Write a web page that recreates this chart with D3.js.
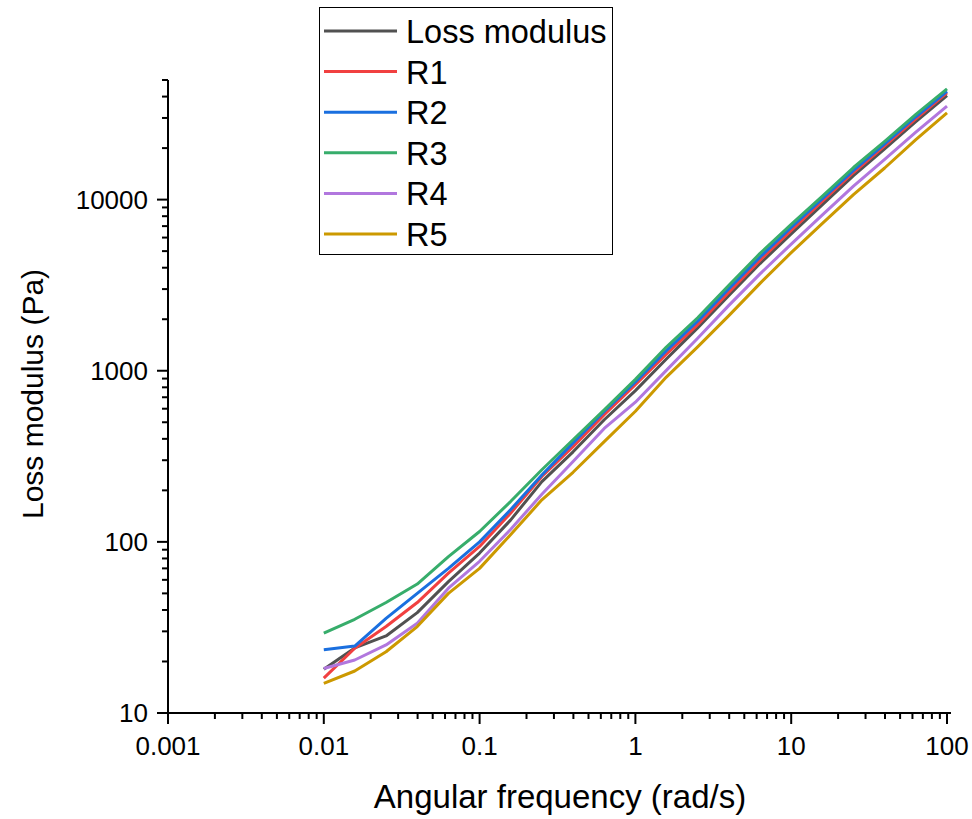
<!DOCTYPE html>
<html><head><meta charset="utf-8">
<script src="https://cdn.jsdelivr.net/npm/d3@7"></script>
<style>body{margin:0;background:#fff}svg{display:block}text{font-family:"Liberation Sans",Arial,sans-serif;fill:#000}</style>
</head><body>
<svg id="c" width="972" height="819"></svg>
<script>
const freq = [0.01,0.0158,0.0251,0.0398,0.0631,0.1,0.158,0.251,0.398,0.631,1,1.58,2.51,3.98,6.31,10,15.8,25.1,39.8,63.1,100];
const lossModulus = [18.0,24.0,28.2,38.6,58.6,86,134,225,336,517,765,1170,1780,2750,4230,6300,9310,13800,19800,28600,40600];
const r1 = [16.0,23.9,32,44.2,65.6,94,147,241,360,553,830,1250,1860,2880,4430,6610,9750,14400,20600,29600,42000];
const r2 = [23.4,24.6,35.7,50,70,100,154,246,379,578,860,1310,1950,3020,4620,6890,10100,14800,21200,30500,42900];
const r3 = [29.3,35.3,44.2,56.7,82,115,172,264,395,591,890,1375,2040,3160,4850,7160,10450,15400,21900,31500,44400];
const r4 = [18.2,20.4,25,33.5,53.6,77,118,190,295,460,655,1005,1550,2410,3680,5500,8110,12000,17200,24800,35200];
const r5 = [14.9,17.6,22.8,32,50,70,110,176,255,385,580,918,1380,2100,3240,4900,7230,10700,15300,22400,32100];
const seriesNames = ["Loss modulus","R1","R2","R3","R4","R5"];
const seriesColors = ["#515151","#F14040","#1A6FDF","#37AD6B","#B177DE","#CC9900"];
const xTickValues = [0.001,0.01,0.1,1,10,100];
const xTickLabels = ["0.001","0.01","0.1","1","10","100"];
const yTickValues = [10,100,1000,10000];
const yTickLabels = ["10","100","1000","10000"];
const xTitle = "Angular frequency (rad/s)";
const yTitle = "Loss modulus (Pa)";

const allSeries = [lossModulus,r1,r2,r3,r4,r5];
const svg = d3.select("#c");
const x = d3.scaleLog().domain([0.001,100]).range([168,947]);
const y = d3.scaleLog().domain([10,50000]).range([713,80]);

const xMinor = [];
for (let e=-3;e<2;e++) for (let k=2;k<=9;k++) xMinor.push(k*Math.pow(10,e));
const yMinor = [];
for (let e=1;e<5;e++) for (let k=2;k<=9;k++) { const v=k*Math.pow(10,e); if (v<=50000) yMinor.push(v); }

const ax = svg.append("g").attr("stroke","#000").attr("stroke-width",2);
ax.append("line").attr("x1",167).attr("x2",951).attr("y1",713).attr("y2",713);
ax.append("line").attr("x1",168).attr("x2",168).attr("y1",714).attr("y2",80);
xTickValues.forEach(v=>ax.append("line").attr("x1",x(v)).attr("x2",x(v)).attr("y1",713).attr("y2",724));
xMinor.forEach(v=>ax.append("line").attr("x1",x(v)).attr("x2",x(v)).attr("y1",713).attr("y2",719));
yTickValues.forEach(v=>ax.append("line").attr("x1",168).attr("x2",157).attr("y1",y(v)).attr("y2",y(v)));
yMinor.forEach(v=>ax.append("line").attr("x1",168).attr("x2",162).attr("y1",y(v)).attr("y2",y(v)));

svg.append("g").selectAll("text").data(xTickValues).join("text")
  .attr("x",d=>x(d)).attr("y",755).attr("text-anchor","middle").attr("font-size",26)
  .text((d,i)=>xTickLabels[i]);
svg.append("g").selectAll("text").data(yTickValues).join("text")
  .attr("x",148).attr("y",d=>y(d)+9).attr("text-anchor","end").attr("font-size",26)
  .text((d,i)=>yTickLabels[i]);

svg.append("text").attr("x",560).attr("y",808).attr("text-anchor","middle").attr("font-size",33).text(xTitle);
svg.append("text").attr("transform","translate(43,394) rotate(-90)").attr("text-anchor","middle").attr("font-size",30).text(yTitle);

const line = d3.line().x((d,i)=>x(freq[i])).y(d=>y(d));
allSeries.forEach((s,k)=>{
  svg.append("path").datum(s).attr("d",line).attr("fill","none")
    .attr("stroke",seriesColors[k]).attr("stroke-width",3).attr("stroke-linejoin","round");
});

const lg = svg.append("g");
lg.append("rect").attr("x",319.5).attr("y",7.5).attr("width",293).attr("height",247)
  .attr("fill","#fff").attr("stroke","#000").attr("stroke-width",1);
seriesNames.forEach((n,i)=>{
  const yy = 31 + i*40.6;
  lg.append("line").attr("x1",324).attr("x2",397).attr("y1",yy).attr("y2",yy)
    .attr("stroke",seriesColors[i]).attr("stroke-width",3);
  lg.append("text").attr("x",406).attr("y",yy+12).attr("font-size",32.5).text(n);
});
</script>
</body></html>
